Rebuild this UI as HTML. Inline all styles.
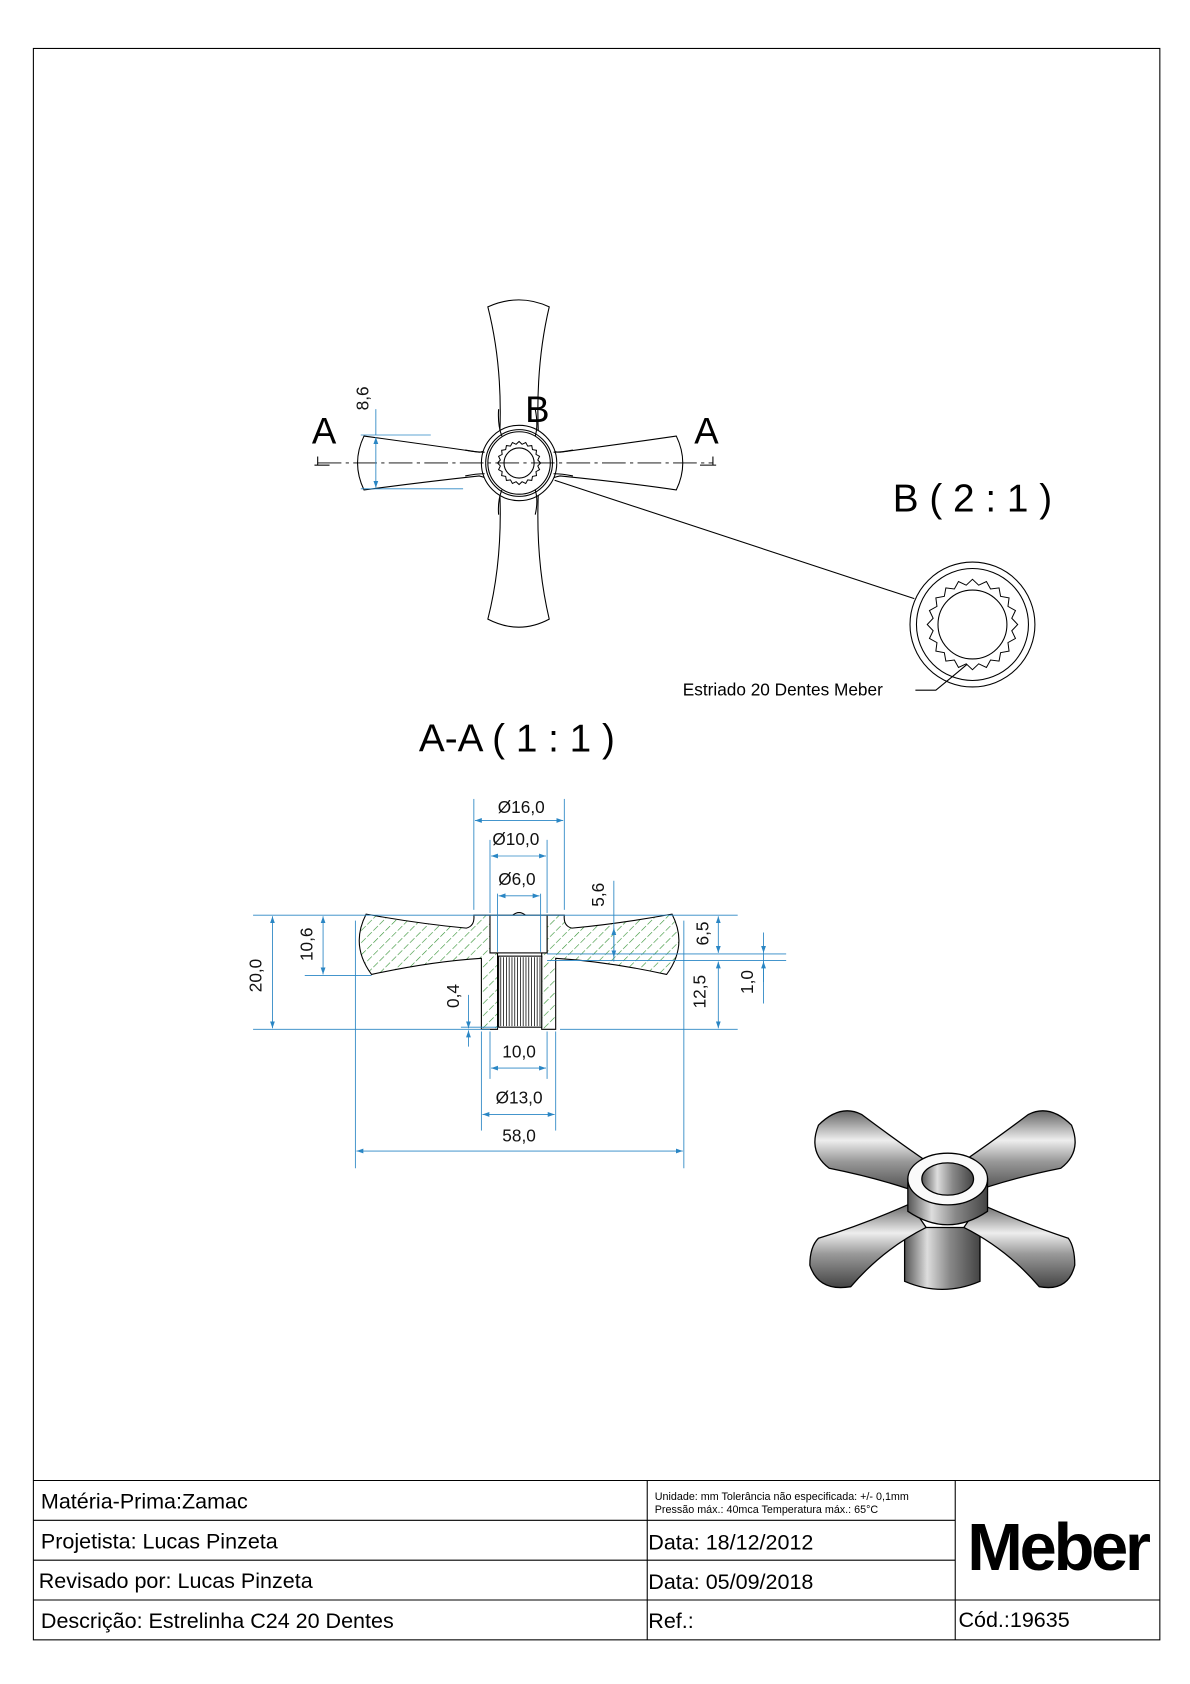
<!DOCTYPE html>
<html><head><meta charset="utf-8"><style>
html,body{margin:0;padding:0;background:#fff}
svg{display:block}
text{font-family:"Liberation Sans",sans-serif}
.b{stroke:#000;stroke-width:1}
.d{stroke:#2a86c4;fill:none;stroke-width:0.8}
.dt{fill:#111;font-size:16px}
</style></head><body>
<svg width="1190" height="1684" viewBox="0 0 1105 1564" preserveAspectRatio="none" xmlns="http://www.w3.org/2000/svg">
<defs>
<pattern id="h" patternUnits="userSpaceOnUse" width="8" height="8" patternTransform="rotate(45)">
<line x1="0" y1="0" x2="0" y2="6" stroke="#2f8f2f" stroke-width="1.1"/>
</pattern>
<marker id="ar" viewBox="0 0 10 10" refX="10" refY="5" markerWidth="8" markerHeight="8" orient="auto-start-reverse"><path d="M0,1.5 L10,5 L0,8.5z" fill="#2a86c4"/></marker>
<linearGradient id="m" x1="0" y1="0" x2="0" y2="1"><stop offset="0" stop-color="#666"/><stop offset="0.35" stop-color="#eee"/><stop offset="0.6" stop-color="#999"/><stop offset="1" stop-color="#444"/></linearGradient>
<linearGradient id="mh" x1="0" y1="0" x2="1" y2="0"><stop offset="0" stop-color="#555"/><stop offset="0.3" stop-color="#ddd"/><stop offset="0.6" stop-color="#888"/><stop offset="1" stop-color="#444"/></linearGradient>
<path id="gear" fill="none" stroke="#000" vector-effect="non-scaling-stroke" d="M1,0 L.869,.138 L.951,.309 L.785,.4 L.809,.588 L.622,.622 L.588,.809 L.4,.785 L.309,.951 L.138,.869 L0,1 L-.138,.869 L-.309,.951 L-.4,.785 L-.588,.809 L-.622,.622 L-.809,.588 L-.785,.4 L-.951,.309 L-.869,.138 L-1,0 L-.869,-.138 L-.951,-.309 L-.785,-.4 L-.809,-.588 L-.622,-.622 L-.588,-.809 L-.4,-.785 L-.309,-.951 L-.138,-.869 L0,-1 L.138,-.869 L.309,-.951 L.4,-.785 L.588,-.809 L.622,-.622 L.809,-.588 L.785,-.4 L.951,-.309 L.869,-.138 Z"/>
</defs>
<rect x="31" y="45" width="1046" height="1478" class="b" fill="none"/>
<g class="b"><line x1="31" y1="1375" x2="1077" y2="1375"/><line x1="31" y1="1412" x2="887" y2="1412"/><line x1="31" y1="1449" x2="887" y2="1449"/><line x1="31" y1="1486" x2="1077" y2="1486"/><line x1="601" y1="1375" x2="601" y2="1523"/><line x1="887" y1="1375" x2="887" y2="1523"/></g>
<g font-size="20" fill="#000">
<text x="38" y="1401">Matéria-Prima:Zamac</text>
<text x="38" y="1438">Projetista: Lucas Pinzeta</text>
<text x="36" y="1475">Revisado por:  Lucas Pinzeta</text>
<text x="38" y="1512">Descrição: Estrelinha C24 20 Dentes</text>
<text x="602" y="1439">Data: 18/12/2012</text>
<text x="602" y="1476">Data: 05/09/2018</text>
<text x="602" y="1512">Ref.:</text>
<text x="890" y="1511">Cód.:19635</text>
</g>
<text x="608" y="1393" font-size="10">Unidade: mm Tolerância não especificada: +/- 0,1mm</text>
<text x="608" y="1405" font-size="10">Pressão máx.: 40mca       Temperatura máx.: 65°C</text>
<text x="982" y="1458" font-size="62" font-weight="bold" text-anchor="middle" letter-spacing="-3">Meber</text>

<g class="b" fill="none">
<path d="M453,285 Q482,272 510,285 Q497,340 500,405 Q508,420 520,420 Q580,412 628,405 Q640,430 628,455 Q580,448 520,442 Q505,445 500,455 Q497,520 510,575 Q482,590 453,575 Q467,520 464,455 Q458,445 445,442 Q390,448 338,455 Q326,430 338,405 Q390,412 445,420 Q458,418 464,405 Q467,340 453,285Z" fill="#fff"/>
<circle cx="482" cy="430" r="35" fill="#fff"/><circle cx="482" cy="430" r="31"/><circle cx="482" cy="430" r="29"/>
<circle cx="482" cy="430" r="14"/>
<use href="#gear" transform="translate(482,430) scale(20)"/>
<path d="M463,380 Q462,395 466,405 M497,380 Q500,395 497,405 M463,478 Q462,465 466,455 M497,478 Q500,465 497,455 M432,418 Q442,420 450,420 M432,442 Q442,440 450,440 M532,418 Q522,420 514,420 M532,442 Q522,440 514,440"/>
<line x1="295" y1="430" x2="662" y2="430" stroke-dasharray="22,4,3,4" stroke-width="0.8"/>
<line x1="295" y1="424" x2="295" y2="432"/><line x1="292" y1="432" x2="306" y2="432"/>
<line x1="662" y1="424" x2="662" y2="432"/><line x1="650" y1="432" x2="665" y2="432"/>
<line x1="515" y1="446" x2="849" y2="556"/>
</g>
<text x="301" y="412" font-size="34" text-anchor="middle">A</text>
<text x="656" y="412" font-size="34" text-anchor="middle">A</text>
<text x="499" y="392" font-size="34" text-anchor="middle">B</text>
<line class="d" x1="349" y1="380" x2="349" y2="404"/>
<line class="d" x1="349" y1="406" x2="349" y2="453" marker-start="url(#ar)" marker-end="url(#ar)"/>
<line class="d" x1="335" y1="404" x2="400" y2="404"/><line class="d" x1="335" y1="454" x2="430" y2="454"/>
<text class="dt" transform="translate(342,370) rotate(-90)" text-anchor="middle">8,6</text>

<text x="903" y="475" font-size="36" text-anchor="middle">B ( 2 : 1 )</text>
<g class="b" fill="none"><circle cx="903" cy="580" r="58"/><circle cx="903" cy="580" r="52"/><circle cx="903" cy="580" r="32"/>
<use href="#gear" transform="translate(903,580) scale(42)"/>
<path d="M850,641 L869,641 Q885,628 898,617"/></g>
<text x="634" y="646" font-size="16">Estriado 20 Dentes Meber</text>

<text x="480" y="698" font-size="36" text-anchor="middle">A-A ( 1 : 1 )</text>
<path d="M340,849 Q390,858 433,862 Q441,860 440,850 L455,850 L455,885 L462,885 L462,956 L447,956 L447,890 Q400,893 345,905 Q325,878 340,849Z" fill="url(#h)" class="b"/>
<path d="M624,849 Q574,858 531,862 Q523,860 524,850 L508,850 L508,885 L503,885 L503,956 L516,956 L516,890 Q564,893 619,905 Q639,878 624,849Z" fill="url(#h)" class="b"/>
<rect x="455" y="850" width="53" height="35" class="b" fill="#fff"/>
<rect x="463" y="888" width="40" height="66" fill="#fff" stroke="#000"/>
<g stroke="#000" stroke-width="0.7">
<line x1="465" y1="889" x2="465" y2="953"/><line x1="467.6" y1="889" x2="467.6" y2="953"/><line x1="470.2" y1="889" x2="470.2" y2="953"/><line x1="472.8" y1="889" x2="472.8" y2="953"/><line x1="475.4" y1="889" x2="475.4" y2="953"/><line x1="478" y1="889" x2="478" y2="953"/><line x1="480.6" y1="889" x2="480.6" y2="953"/><line x1="483.2" y1="889" x2="483.2" y2="953"/><line x1="485.8" y1="889" x2="485.8" y2="953"/><line x1="488.4" y1="889" x2="488.4" y2="953"/><line x1="491" y1="889" x2="491" y2="953"/><line x1="493.6" y1="889" x2="493.6" y2="953"/><line x1="496.2" y1="889" x2="496.2" y2="953"/><line x1="498.8" y1="889" x2="498.8" y2="953"/><line x1="501.4" y1="889" x2="501.4" y2="953"/>
</g>
<path d="M476,850 Q482,845 488,850" class="b" fill="none"/>
<g class="d">
<line x1="440" y1="742" x2="440" y2="845"/><line x1="524" y1="742" x2="524" y2="845"/>
<line x1="441" y1="762" x2="523" y2="762" marker-start="url(#ar)" marker-end="url(#ar)"/>
<line x1="455" y1="780" x2="455" y2="848"/><line x1="508" y1="780" x2="508" y2="848"/>
<line x1="456" y1="795" x2="507" y2="795" marker-start="url(#ar)" marker-end="url(#ar)"/>
<line x1="462" y1="830" x2="462" y2="884"/><line x1="502" y1="830" x2="502" y2="884"/>
<line x1="463" y1="832" x2="501" y2="832" marker-start="url(#ar)" marker-end="url(#ar)"/>
<line x1="235" y1="850" x2="685" y2="850"/><line x1="235" y1="956" x2="455" y2="956"/><line x1="520" y1="956" x2="685" y2="956"/>
<line x1="253" y1="851" x2="253" y2="955" marker-start="url(#ar)" marker-end="url(#ar)"/>
<line x1="283" y1="906" x2="345" y2="906"/>
<line x1="300" y1="851" x2="300" y2="905" marker-start="url(#ar)" marker-end="url(#ar)"/>
<line x1="570" y1="818" x2="570" y2="893"/>
<line x1="570" y1="862" x2="570" y2="889" marker-start="url(#ar)" marker-end="url(#ar)"/>
<line x1="508" y1="886" x2="730" y2="886"/><line x1="508" y1="892" x2="730" y2="892"/>
<line x1="667" y1="851" x2="667" y2="885" marker-start="url(#ar)" marker-end="url(#ar)"/>
<line x1="667" y1="893" x2="667" y2="955" marker-start="url(#ar)" marker-end="url(#ar)"/>
<line x1="709" y1="866" x2="709" y2="885" marker-end="url(#ar)"/>
<line x1="709" y1="912" x2="709" y2="893" marker-end="url(#ar)"/>
<line x1="709" y1="885" x2="709" y2="932"/>
<line x1="435" y1="924" x2="435" y2="955" marker-end="url(#ar)"/>
<line x1="435" y1="972" x2="435" y2="957" marker-end="url(#ar)"/>
<line x1="428" y1="954" x2="462" y2="954"/>
<line x1="455" y1="958" x2="455" y2="1002"/><line x1="508" y1="958" x2="508" y2="1002"/>
<line x1="456" y1="992" x2="507" y2="992" marker-start="url(#ar)" marker-end="url(#ar)"/>
<line x1="447" y1="958" x2="447" y2="1050"/><line x1="516" y1="958" x2="516" y2="1050"/>
<line x1="448" y1="1035" x2="515" y2="1035" marker-start="url(#ar)" marker-end="url(#ar)"/>
<line x1="330" y1="855" x2="330" y2="1085"/><line x1="635" y1="855" x2="635" y2="1085"/>
<line x1="331" y1="1069" x2="634" y2="1069" marker-start="url(#ar)" marker-end="url(#ar)"/>
</g>
<g class="dt">
<text x="484" y="755" text-anchor="middle">Ø16,0</text>
<text x="479" y="785" text-anchor="middle">Ø10,0</text>
<text x="480" y="822" text-anchor="middle">Ø6,0</text>
<text x="482" y="982" text-anchor="middle">10,0</text>
<text x="482" y="1025" text-anchor="middle">Ø13,0</text>
<text x="482" y="1060" text-anchor="middle">58,0</text>
<text transform="translate(243,906) rotate(-90)" text-anchor="middle">20,0</text>
<text transform="translate(290,877) rotate(-90)" text-anchor="middle">10,6</text>
<text transform="translate(561,831) rotate(-90)" text-anchor="middle">5,6</text>
<text transform="translate(658,867) rotate(-90)" text-anchor="middle">6,5</text>
<text transform="translate(655,921) rotate(-90)" text-anchor="middle">12,5</text>
<text transform="translate(699,912) rotate(-90)" text-anchor="middle">1,0</text>
<text transform="translate(426,925) rotate(-90)" text-anchor="middle">0,4</text>
</g>

<g stroke="#000" stroke-width="1.2">
<path d="M760,1045 Q780,1025 800,1035 Q840,1065 870,1085 L860,1110 Q820,1095 770,1085 Q750,1070 760,1045Z" fill="url(#m)"/>
<path d="M995,1045 Q975,1025 955,1035 Q915,1065 885,1085 L895,1110 Q935,1095 985,1085 Q1005,1070 995,1045Z" fill="url(#m)"/>
<path d="M840,1140 L840,1190 Q875,1205 910,1190 L910,1140Z" fill="url(#mh)"/>
<path d="M760,1150 Q800,1138 845,1118 L860,1140 Q820,1160 790,1195 Q760,1200 752,1175 Q752,1158 760,1150Z" fill="url(#m)"/>
<path d="M992,1150 Q955,1138 910,1118 L895,1140 Q935,1160 965,1195 Q992,1200 998,1175 Q998,1158 992,1150Z" fill="url(#m)"/>
<path d="M843,1095 L843,1125 Q880,1150 917,1125 L917,1095Z" fill="url(#mh)"/>
<ellipse cx="880" cy="1095" rx="37" ry="24" fill="#fafafa"/>
<ellipse cx="880" cy="1095" rx="24" ry="15" fill="url(#mh)"/>
</g>
</svg>
</body></html>
